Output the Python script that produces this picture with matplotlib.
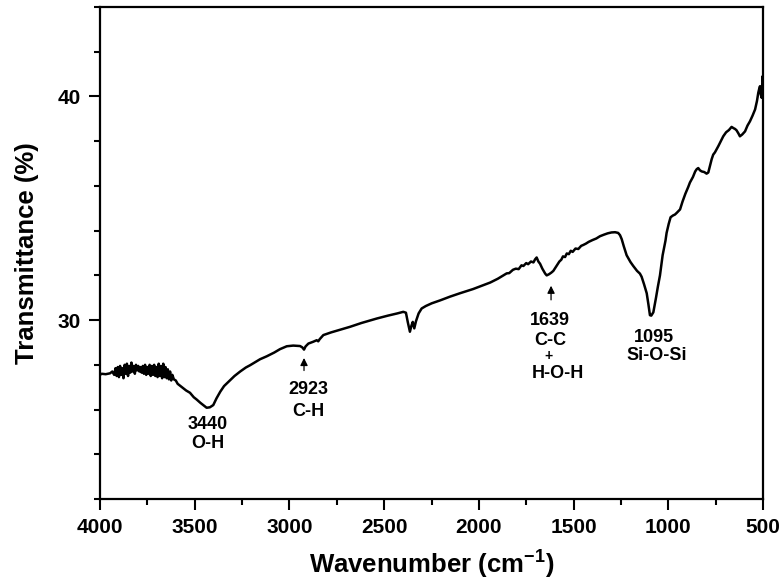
"""
FTIR transmittance spectrum with band assignments.
"""

import matplotlib.pyplot as plt
from matplotlib.ticker import MultipleLocator

# Spectrum (wavenumber in cm-1, transmittance in %)
wavenumber = [
    4000, 3991, 3970, 3947, 3935, 3925,
    3918, 3912, 3906, 3900, 3894, 3888, 3882, 3876, 3870, 3864,
    3858, 3852, 3846, 3840, 3834, 3828, 3822, 3816, 3810, 3804,
    3798, 3792, 3786, 3780, 3774, 3768, 3762, 3756, 3750, 3744,
    3738, 3732, 3726, 3720, 3714, 3708, 3702, 3696, 3690, 3684,
    3678, 3672, 3666, 3660, 3654, 3648, 3642, 3636, 3630, 3624,
    3618, 3610, 3600, 3590, 3575, 3560, 3545, 3525, 3505, 3490,
    3470, 3455, 3437, 3420, 3402, 3385, 3365, 3345, 3314, 3290,
    3260, 3230, 3208, 3180, 3155, 3120, 3080, 3050, 3014, 2980,
    2944, 2932, 2923, 2915, 2900, 2875, 2856, 2848, 2840, 2821,
    2780, 2740, 2680, 2620, 2580, 2539, 2480, 2430, 2399, 2385,
    2375, 2364, 2356, 2349, 2341, 2332, 2318, 2302, 2280, 2249,
    2205, 2152, 2100, 2030, 1980, 1940, 1900, 1853, 1840, 1820,
    1805, 1790, 1775, 1765, 1750, 1740, 1725, 1712, 1703, 1695,
    1686, 1677, 1665, 1650, 1642, 1630, 1618, 1607, 1590, 1575,
    1565, 1556, 1545, 1536, 1525, 1515, 1505, 1490, 1475, 1460,
    1449, 1435, 1420, 1400, 1380, 1361, 1340, 1320, 1300, 1281,
    1265, 1255, 1246, 1235, 1220, 1200, 1185, 1165, 1150, 1141,
    1128, 1114, 1105, 1097, 1090, 1079, 1065, 1055, 1044, 1030,
    1015, 1009, 998, 988, 975, 965, 955, 938, 925, 910,
    895, 886, 870, 858, 850, 842, 833, 824, 810, 798,
    789, 780, 771, 763, 754, 736, 720, 710, 695, 680,
    666, 655, 648, 640, 630, 622, 610, 595, 582, 569,
    555, 542, 532, 525, 520, 516, 512, 507, 504, 502,
    500,
]
transmittance = [
    27.55, 27.60, 27.58, 27.62, 27.70, 27.55,
    27.85, 27.50, 27.90, 27.45, 27.95, 27.55, 27.85, 27.40, 28.00, 27.60,
    28.05, 27.50, 27.95, 27.65, 28.10, 27.70, 27.95, 27.60, 28.00, 27.75,
    27.95, 27.70, 27.90, 27.65, 27.95, 27.60, 28.00, 27.55, 27.90, 27.60,
    28.00, 27.50, 27.95, 27.55, 28.00, 27.50, 27.90, 27.45, 28.05, 27.50,
    27.95, 27.40, 28.05, 27.45, 27.90, 27.40, 27.80, 27.35, 27.70, 27.30,
    27.55, 27.35, 27.30, 27.15, 27.05, 26.95, 26.85, 26.75, 26.55, 26.45,
    26.30, 26.20, 26.08, 26.10, 26.20, 26.50, 26.80, 27.05, 27.30, 27.50,
    27.70, 27.88, 27.98, 28.12, 28.25, 28.38, 28.55, 28.70, 28.83, 28.86,
    28.84, 28.78, 28.68, 28.82, 28.95, 29.03, 29.10, 29.05, 29.15, 29.33,
    29.45, 29.55, 29.70, 29.87, 29.97, 30.07, 30.20, 30.30, 30.37, 30.33,
    29.90, 29.48, 29.75, 29.92, 29.63, 29.95, 30.30, 30.52, 30.63, 30.75,
    30.88, 31.05, 31.20, 31.39, 31.55, 31.68, 31.85, 32.09, 32.10, 32.25,
    32.30, 32.28, 32.45, 32.42, 32.55, 32.50, 32.62, 32.58, 32.72, 32.80,
    32.62, 32.52, 32.30, 32.08, 32.00, 32.05, 32.12, 32.20, 32.42, 32.62,
    32.70, 32.85, 32.82, 32.98, 32.95, 33.10, 33.05, 33.20, 33.18, 33.32,
    33.36, 33.42, 33.50, 33.58, 33.65, 33.75, 33.82, 33.88, 33.92, 33.93,
    33.90, 33.80, 33.62, 33.30, 32.90, 32.60, 32.42, 32.20, 32.08, 31.94,
    31.60, 31.20, 30.70, 30.22, 30.20, 30.35, 31.00, 31.50, 32.00, 32.90,
    33.55, 33.90, 34.30, 34.60, 34.68, 34.72, 34.80, 34.95, 35.30, 35.65,
    35.95, 36.15, 36.40, 36.65, 36.75, 36.80, 36.70, 36.65, 36.62, 36.55,
    36.60, 36.90, 37.20, 37.40, 37.50, 37.78, 38.05, 38.22, 38.40, 38.50,
    38.64, 38.58, 38.55, 38.49, 38.35, 38.22, 38.30, 38.44, 38.70, 38.89,
    39.15, 39.42, 39.80, 40.17, 40.35, 40.46, 40.10, 39.94, 40.60, 40.91,
    40.70,
]

# Band labels: (x, y, text, size) in data coordinates
band_labels = [
    (3430, 25.35, '3440', 13), (3430, 24.48, 'O-H', 13),
    (2902, 26.90, '2923', 13), (2902, 25.92, 'C-H', 13),
    (1625, 29.98, '1639', 13), (1625, 29.08, 'C-C', 13),
    (1630, 28.38, '+', 10), (1582, 27.62, 'H-O-H', 13),
    (1076, 29.24, '1095', 13), (1060, 28.43, 'Si-O-Si', 13),
]
# Arrows: (x, tail y, head y)
band_arrows = [
    (2923, 27.62, 28.43),
    (1619, 30.78, 31.66),
]

plt.rcParams['font.family'] = ['Liberation Sans', 'DejaVu Sans']
plt.rcParams['font.weight'] = 'bold'
plt.rcParams['mathtext.fontset'] = 'custom'
plt.rcParams['mathtext.rm'] = 'Liberation Sans:bold'
plt.rcParams['mathtext.bf'] = 'Liberation Sans:bold'

fig = plt.figure(figsize=(7.83, 5.88), dpi=100)
ax = fig.add_axes([0.1277, 0.1514, 0.8468, 0.8366])

ax.plot(wavenumber, transmittance, color='black', linewidth=1.8)

for x, y, s, size in band_labels:
    ax.text(x, y, s, ha='center', va='center', fontsize=size,
            fontweight='bold')

for x, y0, y1 in band_arrows:
    ax.annotate('', xy=(x, y1), xytext=(x, y0),
                arrowprops=dict(arrowstyle='-|>', color='black', lw=0.9,
                                mutation_scale=11))

ax.set_xlim(4000, 500)
ax.set_ylim(22, 44)
ax.xaxis.set_major_locator(MultipleLocator(500))
ax.xaxis.set_minor_locator(MultipleLocator(250))
ax.yaxis.set_major_locator(MultipleLocator(10))
ax.yaxis.set_minor_locator(MultipleLocator(2))

ax.tick_params(which='major', direction='out', length=8, width=1.5,
               labelsize=15, pad=6, top=False, right=False)
ax.tick_params(which='minor', direction='out', length=4.5, width=1.5,
               top=False, right=False)
for lab in ax.get_xticklabels() + ax.get_yticklabels():
    lab.set_fontweight('bold')

for spine in ax.spines.values():
    spine.set_linewidth(1.6)

ax.set_xlabel('Wavenumber (cm$^{\\mathbf{-1}}$)', fontsize=18.5,
              fontweight='bold', labelpad=7)
ax.set_ylabel('Transmittance (%)', fontsize=18.5, fontweight='bold',
              labelpad=13)

plt.savefig('out.png', dpi=100, facecolor='white')
plt.close()
print("[OK] Generated: out.png")
